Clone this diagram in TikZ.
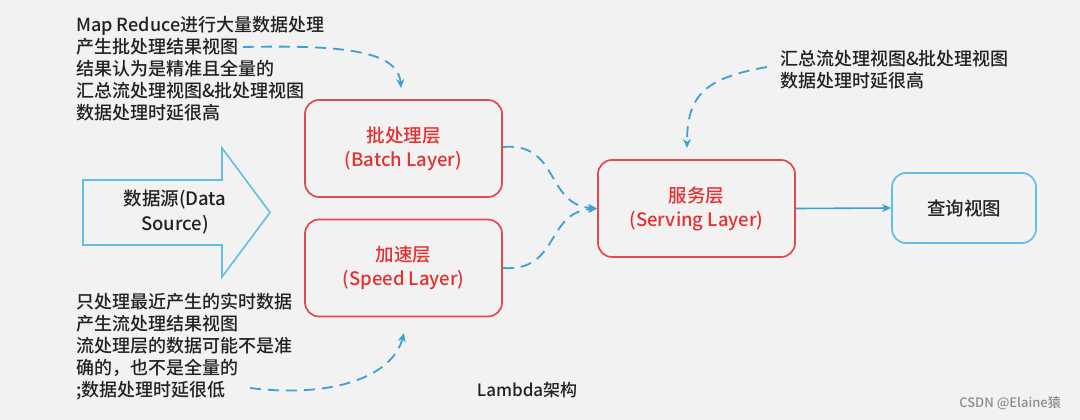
\documentclass[tikz,border=0pt]{standalone}
\usepackage{fontspec}
\setmainfont{Noto Sans CJK SC}[UprightFont={* Medium}]
\usetikzlibrary{arrows.meta}
\definecolor{bg}{HTML}{F2F2F2}
\definecolor{lred}{HTML}{DE4A50}
\definecolor{tred}{HTML}{E5302F}
\definecolor{lblue}{HTML}{62BEE6}
\definecolor{dblue}{HTML}{3BA2D2}
\definecolor{ink}{HTML}{222222}
\begin{document}
\begin{tikzpicture}[x=1pt,y=-1pt,
  layer/.style={draw=lred,line width=1.7pt,rounded corners=14pt,minimum width=197pt,minimum height=97pt,text=tred,align=center,font=\fontsize{18.5}{24}\selectfont,inner sep=0pt},
  viewbox/.style={draw=lblue,line width=1.7pt,rounded corners=14pt,minimum width=144pt,minimum height=70pt,text=ink,font=\fontsize{18.5}{24}\selectfont,inner sep=0pt},
  note/.style={text=ink,align=left,font=\fontsize{18}{22}\selectfont,inner sep=0pt,anchor=north west},
  dashconn/.style={draw=dblue,line width=1.8pt,dash pattern=on 11pt off 7pt,-{Stealth[length=9pt,width=8pt]}},
  solidconn/.style={draw=dblue,line width=1.6pt,-{Stealth[length=9pt,width=8pt]}},
  srcarrow/.style={draw=lblue,line width=1.6pt,fill=bg}
]
\fill[bg] (0,0) rectangle (1080,420);
\useasboundingbox (0,0) rectangle (1080,420);

% data source arrow
\draw[srcarrow] (83,180) -- (222,180) -- (222,148) -- (270,212.5) -- (222,277) -- (222,245) -- (83,245) -- cycle;
\node[text=ink,align=center,font=\fontsize{18.5}{25}\selectfont,inner sep=0pt] (src) at (175,212.5) {数据源(Data\\Source)};

% layers
\node[layer] (batch) at (403.5,148.5) {批处理层\\(Batch Layer)};
\node[layer] (speed) at (403.5,268) {加速层\\(Speed Layer)};
\node[layer] (serve) at (696.5,208.5) {服务层\\(Serving Layer)};
\node[viewbox] (query) at (964,208) {查询视图};

% notes
\node[note] (topnote) at (76,16) {Map Reduce进行大量数据处理\\产生批处理结果视图\\结果认为是精准且全量的\\汇总流处理视图\&批处理视图\\数据处理时延很高};
\node[note] (botnote) at (76,293) {只处理最近产生的实时数据\\产生流处理结果视图\\流处理层的数据可能不是准\\确的，也不是全量的\\;数据处理时延很低};
\node[note] (rnote) at (780,50) {汇总流处理视图\&批处理视图\\数据处理时延很高};
\node[text=ink,font=\fontsize{17}{20}\selectfont,inner sep=0pt] (title) at (527,390) {Lambda架构};
\node[text=black!45,font=\fontsize{13}{15}\selectfont,inner sep=0pt] (wm) at (1010,403) {CSDN @Elaine猿};

% connector coordinates
\coordinate (t1) at (243,47);
\coordinate (t2) at (401,88);
\coordinate (b1) at (250,388);
\coordinate (b2) at (404,333);
\coordinate (r1) at (767,67);
\coordinate (r2) at (687,148);
\coordinate (sin) at (serve.west);

% connectors
\draw[dashconn] (t1) .. controls (340,45) and (398,50) .. (t2);
\draw[dashconn] (b1) .. controls (330,398) and (392,378) .. (b2);
\draw[dashconn] (r1) .. controls (705,78) and (687,95) .. (r2);
\draw[dashconn] (batch.east |- 0,147) .. controls (560,142) and (545,205) .. (sin);
\draw[dashconn] (speed.east) .. controls (560,272) and (545,212) .. (sin);
\draw[solidconn] (serve.east) -- (query.west);
\end{tikzpicture}
\end{document}
